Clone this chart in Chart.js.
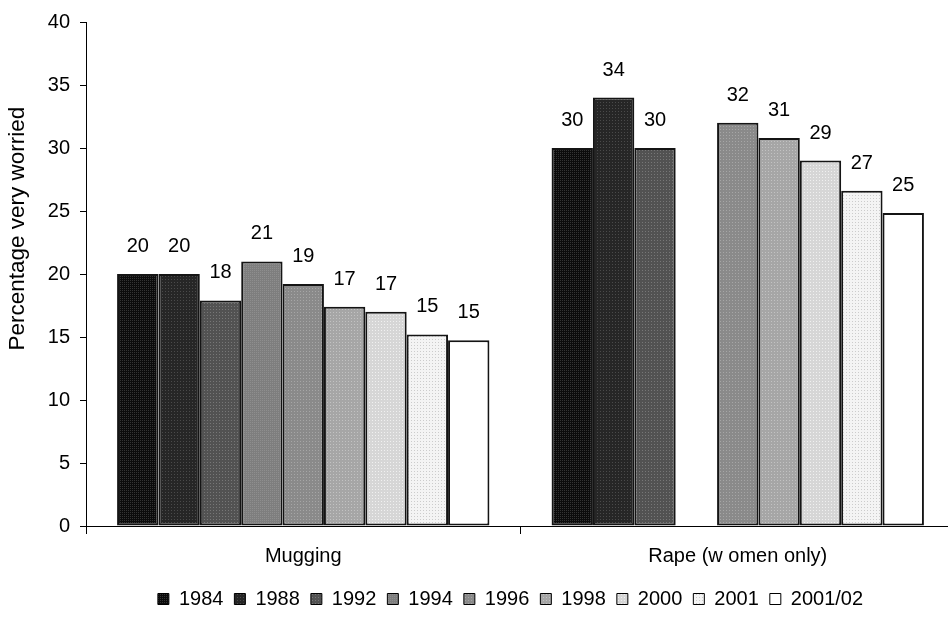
<!DOCTYPE html>
<html>
<head>
<meta charset="utf-8">
<title>Percentage very worried</title>
<script src="https://cdn.jsdelivr.net/npm/chart.js@4/dist/chart.umd.min.js"></script>
<style>
  html, body { margin: 0; padding: 0; background: #fff; width: 948px; height: 627px; overflow: hidden; }
  #wrap { position: relative; width: 958px; height: 627px; }
  canvas { display: block; }
</style>
</head>
<body>
<div id="wrap"><canvas id="chart" width="958" height="627"></canvas></div>
<script>
// Survey categories and years
const categories = ['Mugging', 'Rape (w omen only)'];
const years = ['1984', '1988', '1992', '1994', '1996', '1998', '2000', '2001', '2001/02'];

// Percentage very worried, per year, for each category (no 1994 figure for rape)
const mugging = [20, 20, 17.9, 21, 19.2, 17.4, 17.0, 15.2, 14.75];
const rape    = [30, 34, 30, null, 32, 30.8, 29, 26.6, 24.85];

// Value axis ticks
const yTicks = [0, 5, 10, 15, 20, 25, 30, 35, 40];
const yTitle = 'Percentage very worried';

// Greyscale dotted fills, darkest to lightest: [base, dot, step]
const fills = [
  ['#0b0b0b', '#333333', 2],
  ['#262626', '#4a4a4a', 3],
  ['#525252', '#777777', 3],
  ['#7e7e7e', '#8e8e8e', 2],
  ['#8a8a8a', '#a6a6a6', 3],
  ['#a6a6a6', '#c2c2c2', 3],
  ['#d6d6d6', '#f0f0f0', 3],
  ['#f4f4f4', '#cccccc', 3],
  ['#ffffff', '#ffffff', 1]
];

function dotted(base, dot, step) {
  const c = document.createElement('canvas');
  c.width = step; c.height = step;
  const g = c.getContext('2d');
  g.fillStyle = base; g.fillRect(0, 0, step, step);
  g.fillStyle = dot; g.fillRect(0, 0, 1, 1);
  return g.createPattern(c, 'repeat');
}

const FONT = '"Liberation Sans", Arial, Helvetica, sans-serif';
Chart.defaults.font.family = FONT;
Chart.defaults.font.size = 20;
Chart.defaults.color = '#000';

const datasets = years.map((y, i) => ({
  label: y,
  data: [mugging[i], rape[i]],
  backgroundColor: dotted(fills[i][0], fills[i][1], fills[i][2]),
  borderColor: '#141414',
  borderWidth: 2,
  borderSkipped: false,
  barPercentage: 1.0,
  categoryPercentage: 0.857
}));

// Rounded value written above each bar
const valueLabels = {
  id: 'valueLabels',
  afterDatasetsDraw(chart) {
    const ctx = chart.ctx;
    ctx.save();
    ctx.font = '20px ' + FONT;
    ctx.fillStyle = '#000';
    ctx.textAlign = 'center';
    ctx.textBaseline = 'alphabetic';
    chart.data.datasets.forEach((ds, i) => {
      chart.getDatasetMeta(i).data.forEach((bar, j) => {
        const v = ds.data[j];
        if (v === null || v === undefined) return;
        ctx.fillText(String(Math.round(v)), bar.x, bar.y - 22);
      });
    });
    ctx.restore();
  }
};

// Vertical value-axis caption, sitting a little above the axis middle
const axisCaption = {
  id: 'axisCaption',
  afterDraw(chart) {
    const ctx = chart.ctx;
    const ya = chart.scales.y;
    ctx.save();
    ctx.translate(18, ya.getPixelForValue(23.6));
    ctx.rotate(-Math.PI / 2);
    ctx.font = '22.5px ' + FONT;
    ctx.fillStyle = '#000';
    ctx.textAlign = 'center';
    ctx.textBaseline = 'middle';
    ctx.fillText(yTitle, 0, 0);
    ctx.restore();
  }
};

// Nudge the legend row so it sits centred under the visible plot
const legendShift = {
  id: 'legendShift',
  afterLayout(chart) {
    const lg = chart.legend;
    if (lg) { lg.left += 33; lg.right += 33; }
  }
};

new Chart(document.getElementById('chart'), {
  type: 'bar',
  data: { labels: categories, datasets },
  plugins: [valueLabels, axisCaption, legendShift],
  options: {
    responsive: false,
    animation: false,
    devicePixelRatio: 1,
    layout: { padding: { left: 0, right: 3, top: 12, bottom: 8 } },
    plugins: {
      tooltip: { enabled: false },
      legend: {
        position: 'bottom',
        labels: {
          boxWidth: 11,
          boxHeight: 11,
          padding: 11,
          font: { size: 20 },
          color: '#000',
          generateLabels(chart) {
            return Chart.defaults.plugins.legend.labels.generateLabels(chart).map(it => {
              it.lineWidth = 1;
              it.strokeStyle = '#000';
              return it;
            });
          }
        }
      }
    },
    scales: {
      x: {
        grid: {
          display: true,
          offset: true,
          drawOnChartArea: false,
          drawTicks: true,
          tickLength: 8,
          color: '#000',
          lineWidth: 1
        },
        border: { display: true, color: '#000', width: 1 },
        ticks: { padding: 10, font: { size: 20 }, color: '#000', maxRotation: 0 }
      },
      y: {
        min: 0,
        max: 40,
        afterFit(scale) { scale.width = 86; },
        afterBuildTicks(scale) { scale.ticks = yTicks.map(v => ({ value: v })); },
        grid: {
          display: true,
          drawOnChartArea: false,
          drawTicks: true,
          tickLength: 6,
          color: '#000',
          lineWidth: 1
        },
        border: { display: true, color: '#000', width: 1 },
        ticks: { padding: 10, font: { size: 20 }, color: '#000' },
        title: { display: false }
      }
    }
  }
});
</script>
</body>
</html>
